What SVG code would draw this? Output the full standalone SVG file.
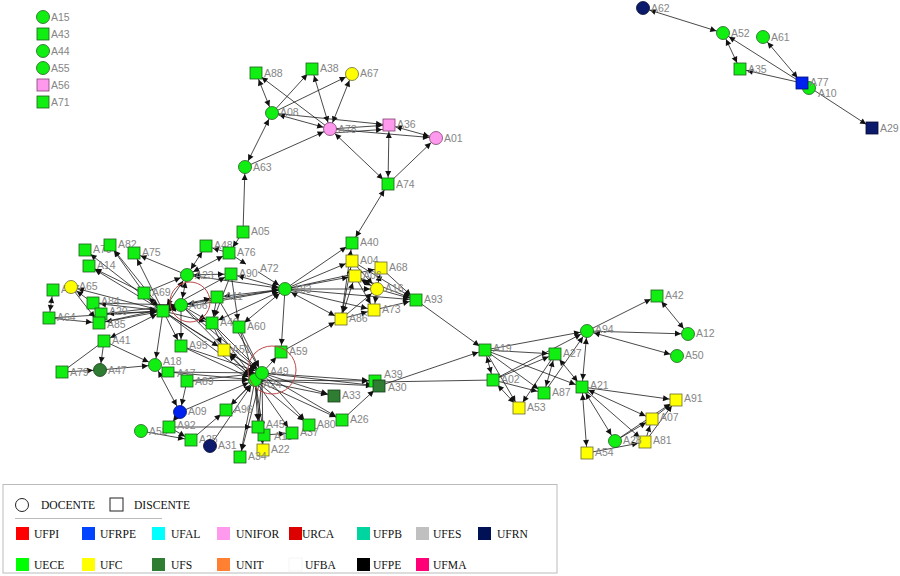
<svg xmlns="http://www.w3.org/2000/svg" width="900" height="576" viewBox="0 0 900 576">
<defs>
<marker id="ar" viewBox="0 0 20 10" refX="17" refY="5" markerWidth="20" markerHeight="10" markerUnits="userSpaceOnUse" orient="auto-start-reverse"><path d="M4,2 L10,5 L4,8 z" fill="#111"/></marker>
</defs>
<style>
.s{stroke:#1a1a1a;stroke-width:0.8;fill:none;marker-end:url(#ar)}
.d{stroke:#1a1a1a;stroke-width:0.8;fill:none;marker-end:url(#ar);marker-start:url(#ar)}
.p{stroke:#1a1a1a;stroke-width:0.8;fill:none}
.l{font-family:"Liberation Sans",Arial,sans-serif;font-size:10.5px;fill:#858585}
.g{fill:#11ee11;stroke:#1f5f1f;stroke-width:0.8}
.y{fill:#ffff00;stroke:#6a6a30;stroke-width:0.8}
.k{fill:#ff99ee;stroke:#804070;stroke-width:0.8}
.n{fill:#0c1a6b;stroke:#050a30;stroke-width:0.8}
.b{fill:#0022ee;stroke:#001170;stroke-width:0.8}
.dg{fill:#2e7d32;stroke:#163d18;stroke-width:0.8}
.w{fill:#ffffff;stroke:none}
.ring{fill:none;stroke:#c04848;stroke-width:1}
.lt{font-family:"Liberation Serif","Times New Roman",serif;font-size:11.6px;fill:#111}
</style>
<rect width="900" height="576" fill="#ffffff"/>
<g id="connectors">
<line class="d" x1="643" y1="8" x2="723" y2="33"/>
<line class="d" x1="723" y1="33" x2="740" y2="69"/>
<line class="s" x1="802" y1="83" x2="723" y2="33"/>
<line class="d" x1="802" y1="83" x2="763" y2="37"/>
<line class="s" x1="802" y1="83" x2="740" y2="69"/>
<line class="s" x1="809" y1="87" x2="872" y2="128"/>
<line class="d" x1="272" y1="113" x2="256" y2="73"/>
<line class="s" x1="272" y1="113" x2="312" y2="69"/>
<line class="s" x1="272" y1="113" x2="352" y2="74"/>
<line class="s" x1="330" y1="129" x2="256" y2="73"/>
<line class="d" x1="330" y1="129" x2="312" y2="69"/>
<line class="d" x1="330" y1="129" x2="352" y2="74"/>
<line class="d" x1="272" y1="113" x2="330" y2="129"/>
<line class="s" x1="272" y1="113" x2="389" y2="125"/>
<line class="s" x1="330" y1="129" x2="389" y2="125"/>
<line class="s" x1="332" y1="133" x2="389" y2="129"/>
<line class="s" x1="330" y1="129" x2="436" y2="138"/>
<line class="d" x1="389" y1="125" x2="436" y2="138"/>
<line class="d" x1="389" y1="125" x2="388" y2="184"/>
<line class="d" x1="330" y1="129" x2="388" y2="184"/>
<line class="s" x1="388" y1="184" x2="436" y2="138"/>
<line class="d" x1="272" y1="113" x2="245" y2="167"/>
<line class="s" x1="245" y1="167" x2="330" y2="129"/>
<line class="s" x1="243" y1="232" x2="245" y2="167"/>
<line class="d" x1="352" y1="243" x2="388" y2="184"/>
<line class="s" x1="163" y1="311" x2="85" y2="250"/>
<line class="s" x1="163" y1="311" x2="110" y2="245"/>
<line class="s" x1="144" y1="293" x2="110" y2="245"/>
<line class="s" x1="163" y1="311" x2="134" y2="253"/>
<line class="s" x1="187" y1="275" x2="134" y2="253"/>
<line class="s" x1="144" y1="293" x2="89" y2="266"/>
<line class="s" x1="163" y1="311" x2="89" y2="266"/>
<line class="s" x1="93" y1="303" x2="71" y2="287"/>
<line class="s" x1="163" y1="311" x2="71" y2="287"/>
<line class="d" x1="53" y1="290" x2="49" y2="318"/>
<line class="s" x1="71" y1="287" x2="99" y2="323"/>
<line class="d" x1="163" y1="311" x2="93" y2="303"/>
<line class="d" x1="163" y1="311" x2="101" y2="314"/>
<line class="d" x1="163" y1="311" x2="99" y2="323"/>
<line class="s" x1="93" y1="303" x2="181" y2="305"/>
<line class="s" x1="101" y1="314" x2="181" y2="305"/>
<line class="s" x1="99" y1="323" x2="181" y2="305"/>
<line class="s" x1="49" y1="318" x2="163" y2="311"/>
<line class="s" x1="49" y1="318" x2="99" y2="323"/>
<line class="d" x1="163" y1="311" x2="104" y2="341"/>
<line class="s" x1="104" y1="341" x2="100" y2="370"/>
<line class="s" x1="104" y1="341" x2="155" y2="365"/>
<line class="s" x1="62" y1="372" x2="100" y2="370"/>
<line class="p" x1="62" y1="372" x2="104" y2="341"/>
<line class="s" x1="100" y1="370" x2="155" y2="365"/>
<line class="d" x1="144" y1="293" x2="163" y2="311"/>
<line class="s" x1="144" y1="293" x2="187" y2="275"/>
<line class="d" x1="163" y1="311" x2="181" y2="305"/>
<line class="d" x1="163" y1="311" x2="187" y2="275"/>
<line class="s" x1="163" y1="311" x2="217" y2="297"/>
<line class="s" x1="163" y1="311" x2="212" y2="323"/>
<line class="s" x1="163" y1="311" x2="231" y2="274"/>
<line class="d" x1="163" y1="311" x2="285" y2="289"/>
<line class="s" x1="163" y1="311" x2="181" y2="346"/>
<line class="s" x1="163" y1="311" x2="224" y2="350"/>
<line class="s" x1="163" y1="311" x2="262" y2="373"/>
<line class="s" x1="163" y1="311" x2="255" y2="380"/>
<line class="s" x1="163" y1="311" x2="155" y2="365"/>
<line class="d" x1="181" y1="305" x2="187" y2="275"/>
<line class="s" x1="181" y1="305" x2="217" y2="297"/>
<line class="s" x1="181" y1="305" x2="212" y2="323"/>
<line class="d" x1="181" y1="305" x2="285" y2="289"/>
<line class="s" x1="181" y1="305" x2="262" y2="373"/>
<line class="s" x1="181" y1="305" x2="255" y2="380"/>
<line class="s" x1="181" y1="305" x2="181" y2="346"/>
<line class="d" x1="187" y1="275" x2="206" y2="246"/>
<line class="d" x1="187" y1="275" x2="229" y2="253"/>
<line class="d" x1="187" y1="275" x2="231" y2="274"/>
<line class="d" x1="187" y1="275" x2="285" y2="289"/>
<line class="s" x1="243" y1="232" x2="229" y2="253"/>
<line class="s" x1="229" y1="253" x2="206" y2="246"/>
<line class="s" x1="229" y1="253" x2="252" y2="268"/>
<line class="s" x1="252" y1="268" x2="285" y2="289"/>
<line class="d" x1="231" y1="274" x2="285" y2="289"/>
<line class="s" x1="231" y1="274" x2="212" y2="323"/>
<line class="s" x1="231" y1="274" x2="239" y2="327"/>
<line class="d" x1="217" y1="297" x2="285" y2="289"/>
<line class="s" x1="217" y1="297" x2="212" y2="323"/>
<line class="s" x1="217" y1="297" x2="262" y2="373"/>
<line class="d" x1="212" y1="323" x2="285" y2="289"/>
<line class="s" x1="212" y1="323" x2="262" y2="373"/>
<line class="s" x1="212" y1="323" x2="255" y2="380"/>
<line class="s" x1="212" y1="323" x2="224" y2="350"/>
<line class="d" x1="239" y1="327" x2="285" y2="289"/>
<line class="s" x1="239" y1="327" x2="262" y2="373"/>
<line class="s" x1="239" y1="327" x2="255" y2="380"/>
<line class="s" x1="285" y1="289" x2="281" y2="352"/>
<line class="d" x1="285" y1="289" x2="341" y2="319"/>
<line class="s" x1="285" y1="289" x2="352" y2="243"/>
<line class="s" x1="285" y1="289" x2="352" y2="261"/>
<line class="s" x1="285" y1="289" x2="355" y2="276"/>
<line class="s" x1="285" y1="289" x2="377" y2="289"/>
<line class="s" x1="285" y1="289" x2="374" y2="310"/>
<line class="s" x1="285" y1="289" x2="416" y2="300"/>
<line class="s" x1="285" y1="289" x2="381" y2="268"/>
<line class="s" x1="281" y1="352" x2="341" y2="319"/>
<line class="d" x1="341" y1="319" x2="352" y2="261"/>
<line class="d" x1="341" y1="319" x2="355" y2="276"/>
<line class="s" x1="341" y1="319" x2="377" y2="289"/>
<line class="s" x1="341" y1="319" x2="374" y2="310"/>
<line class="s" x1="341" y1="319" x2="352" y2="243"/>
<line class="s" x1="352" y1="261" x2="416" y2="300"/>
<line class="s" x1="355" y1="276" x2="416" y2="300"/>
<line class="s" x1="377" y1="289" x2="416" y2="300"/>
<line class="s" x1="374" y1="310" x2="416" y2="300"/>
<line class="s" x1="381" y1="268" x2="416" y2="300"/>
<line class="d" x1="355" y1="276" x2="377" y2="289"/>
<line class="s" x1="352" y1="261" x2="377" y2="289"/>
<line class="s" x1="355" y1="276" x2="374" y2="310"/>
<line class="s" x1="377" y1="289" x2="374" y2="310"/>
<line class="d" x1="381" y1="268" x2="377" y2="289"/>
<line class="d" x1="224" y1="350" x2="262" y2="373"/>
<line class="d" x1="224" y1="350" x2="255" y2="380"/>
<line class="s" x1="181" y1="346" x2="262" y2="373"/>
<line class="s" x1="181" y1="346" x2="255" y2="380"/>
<line class="s" x1="168" y1="372" x2="255" y2="380"/>
<line class="s" x1="168" y1="372" x2="262" y2="373"/>
<line class="s" x1="187" y1="381" x2="255" y2="380"/>
<line class="s" x1="187" y1="381" x2="180" y2="412"/>
<line class="s" x1="187" y1="381" x2="262" y2="373"/>
<line class="d" x1="155" y1="365" x2="180" y2="412"/>
<line class="s" x1="180" y1="412" x2="169" y2="427"/>
<line class="s" x1="180" y1="412" x2="255" y2="380"/>
<line class="s" x1="169" y1="427" x2="191" y2="440"/>
<line class="s" x1="141" y1="431" x2="191" y2="440"/>
<line class="s" x1="169" y1="427" x2="258" y2="427"/>
<line class="s" x1="191" y1="440" x2="226" y2="410"/>
<line class="s" x1="210" y1="446" x2="255" y2="380"/>
<line class="s" x1="226" y1="410" x2="255" y2="380"/>
<line class="d" x1="226" y1="410" x2="262" y2="373"/>
<line class="s" x1="262" y1="373" x2="281" y2="352"/>
<line class="s" x1="262" y1="373" x2="375" y2="381"/>
<line class="s" x1="262" y1="373" x2="379" y2="386"/>
<line class="s" x1="262" y1="373" x2="334" y2="396"/>
<line class="s" x1="262" y1="373" x2="342" y2="420"/>
<line class="s" x1="262" y1="373" x2="309" y2="425"/>
<line class="s" x1="255" y1="380" x2="379" y2="386"/>
<line class="s" x1="255" y1="380" x2="375" y2="381"/>
<line class="s" x1="255" y1="380" x2="334" y2="396"/>
<line class="s" x1="255" y1="380" x2="342" y2="420"/>
<line class="s" x1="255" y1="380" x2="309" y2="425"/>
<line class="s" x1="255" y1="380" x2="292" y2="433"/>
<line class="s" x1="255" y1="380" x2="258" y2="427"/>
<line class="s" x1="255" y1="380" x2="264" y2="435"/>
<line class="s" x1="255" y1="380" x2="263" y2="450"/>
<line class="s" x1="255" y1="380" x2="240" y2="457"/>
<line class="s" x1="262" y1="373" x2="258" y2="427"/>
<line class="s" x1="262" y1="373" x2="263" y2="450"/>
<line class="s" x1="262" y1="373" x2="240" y2="457"/>
<line class="s" x1="264" y1="435" x2="292" y2="433"/>
<line class="s" x1="342" y1="420" x2="379" y2="386"/>
<line class="s" x1="379" y1="386" x2="485" y2="350"/>
<line class="p" x1="379" y1="382" x2="493" y2="380"/>
<line class="s" x1="416" y1="300" x2="485" y2="350"/>
<line class="s" x1="485" y1="350" x2="587" y2="331"/>
<line class="s" x1="485" y1="350" x2="555" y2="354"/>
<line class="d" x1="485" y1="350" x2="493" y2="380"/>
<line class="s" x1="485" y1="350" x2="582" y2="387"/>
<line class="s" x1="485" y1="350" x2="544" y2="393"/>
<line class="s" x1="485" y1="350" x2="519" y2="408"/>
<line class="d" x1="493" y1="380" x2="519" y2="408"/>
<line class="s" x1="493" y1="380" x2="544" y2="393"/>
<line class="s" x1="493" y1="380" x2="555" y2="354"/>
<line class="s" x1="493" y1="380" x2="587" y2="331"/>
<line class="d" x1="555" y1="354" x2="582" y2="387"/>
<line class="d" x1="555" y1="354" x2="544" y2="393"/>
<line class="s" x1="555" y1="354" x2="519" y2="408"/>
<line class="s" x1="544" y1="393" x2="587" y2="331"/>
<line class="s" x1="587" y1="331" x2="657" y2="296"/>
<line class="s" x1="587" y1="331" x2="688" y2="334"/>
<line class="d" x1="587" y1="331" x2="677" y2="356"/>
<line class="d" x1="587" y1="331" x2="582" y2="387"/>
<line class="d" x1="657" y1="296" x2="688" y2="334"/>
<line class="s" x1="582" y1="387" x2="676" y2="400"/>
<line class="d" x1="582" y1="387" x2="652" y2="419"/>
<line class="d" x1="582" y1="387" x2="615" y2="441"/>
<line class="d" x1="582" y1="387" x2="587" y2="453"/>
<line class="s" x1="582" y1="387" x2="645" y2="442"/>
<line class="s" x1="615" y1="441" x2="652" y2="419"/>
<line class="s" x1="615" y1="441" x2="676" y2="400"/>
<line class="s" x1="587" y1="453" x2="645" y2="442"/>
<line class="s" x1="645" y1="442" x2="652" y2="419"/>
<line class="s" x1="652" y1="419" x2="676" y2="400"/>
<line class="s" x1="645" y1="442" x2="676" y2="400"/>
</g>
<g id="n-A15"><circle class="g" cx="43" cy="17" r="6.5"/><text class="l" x="51" y="21">A15</text></g>
<g id="n-A43"><rect class="g" x="37" y="28" width="12" height="12"/><text class="l" x="51" y="38">A43</text></g>
<g id="n-A44"><circle class="g" cx="43" cy="51" r="6.5"/><text class="l" x="51" y="55">A44</text></g>
<g id="n-A55"><circle class="g" cx="43" cy="68" r="6.5"/><text class="l" x="51" y="72">A55</text></g>
<g id="n-A56"><rect class="k" x="37" y="79" width="12" height="12"/><text class="l" x="51" y="89">A56</text></g>
<g id="n-A71"><rect class="g" x="37" y="96" width="12" height="12"/><text class="l" x="51" y="106">A71</text></g>
<g id="n-A62"><circle class="n" cx="643" cy="8" r="6.5"/><text class="l" x="651" y="12">A62</text></g>
<g id="n-A52"><circle class="g" cx="723" cy="33" r="6.5"/><text class="l" x="731" y="37">A52</text></g>
<g id="n-A61"><circle class="g" cx="763" cy="37" r="6.5"/><text class="l" x="771" y="41">A61</text></g>
<g id="n-A35"><rect class="g" x="734" y="63" width="12" height="12"/><text class="l" x="748" y="73">A35</text></g>
<g id="n-A10"><circle class="g" cx="809" cy="88" r="6.5"/><text class="l" x="818" y="97">A10</text></g>
<g id="n-A77"><rect class="b" x="796" y="77" width="12" height="12"/><text class="l" x="810" y="86">A77</text></g>
<g id="n-A29"><rect class="n" x="866" y="122" width="12" height="12"/><text class="l" x="880" y="132">A29</text></g>
<g id="n-A88"><rect class="g" x="250" y="67" width="12" height="12"/><text class="l" x="264" y="77">A88</text></g>
<g id="n-A38"><rect class="g" x="306" y="63" width="12" height="12"/><text class="l" x="320" y="72">A38</text></g>
<g id="n-A67"><circle class="y" cx="352" cy="74" r="6.5"/><text class="l" x="360" y="77">A67</text></g>
<g id="n-A08"><circle class="g" cx="272" cy="113" r="6.5"/><text class="l" x="280" y="116">A08</text></g>
<g id="n-A78"><circle class="k" cx="330" cy="129" r="6.5"/><text class="l" x="338" y="133">A78</text></g>
<g id="n-A36"><rect class="k" x="383" y="119" width="12" height="12"/><text class="l" x="397" y="128">A36</text></g>
<g id="n-A01"><circle class="k" cx="436" cy="138" r="6.5"/><text class="l" x="444" y="142">A01</text></g>
<g id="n-A63"><circle class="g" cx="245" cy="167" r="6.5"/><text class="l" x="253" y="171">A63</text></g>
<g id="n-A74"><rect class="g" x="382" y="178" width="12" height="12"/><text class="l" x="396" y="188">A74</text></g>
<g id="n-A05"><rect class="g" x="237" y="226" width="12" height="12"/><text class="l" x="251" y="235">A05</text></g>
<g id="n-A40"><rect class="g" x="346" y="237" width="12" height="12"/><text class="l" x="360" y="246">A40</text></g>
<g id="n-A70"><rect class="g" x="79" y="244" width="12" height="12"/><text class="l" x="93" y="253">A70</text></g>
<g id="n-A82"><rect class="g" x="104" y="239" width="12" height="12"/><text class="l" x="118" y="248">A82</text></g>
<g id="n-A75"><rect class="g" x="128" y="247" width="12" height="12"/><text class="l" x="142" y="256">A75</text></g>
<g id="n-A14"><rect class="g" x="83" y="260" width="12" height="12"/><text class="l" x="97" y="269">A14</text></g>
<g id="n-A57"><rect class="g" x="47" y="284" width="12" height="12"/><text class="l" x="61" y="293">A57</text></g>
<g id="n-A65"><circle class="y" cx="71" cy="287" r="6.5"/><text class="l" x="79" y="290">A65</text></g>
<g id="n-A64"><rect class="g" x="43" y="312" width="12" height="12"/><text class="l" x="57" y="321">A64</text></g>
<g id="n-A84"><rect class="g" x="87" y="297" width="12" height="12"/><text class="l" x="101" y="305">A84</text></g>
<g id="n-A20"><rect class="g" x="95" y="308" width="12" height="12"/><text class="l" x="109" y="315">A20</text></g>
<g id="n-A85"><rect class="g" x="93" y="317" width="12" height="12"/><text class="l" x="107" y="328">A85</text></g>
<g id="n-A41"><rect class="g" x="98" y="335" width="12" height="12"/><text class="l" x="112" y="344">A41</text></g>
<g id="n-A69"><rect class="g" x="138" y="287" width="12" height="12"/><text class="l" x="152" y="296">A69</text></g>
<g id="n-hub"><rect class="g" x="157" y="305" width="12" height="12"/></g>
<g id="n-A66"><circle class="g" cx="181" cy="305" r="6.5"/><text class="l" x="189" y="309">A66</text></g>
<g id="n-A23"><circle class="g" cx="187" cy="275" r="6.5"/><text class="l" x="195" y="279">A23</text></g>
<g id="n-A48"><rect class="g" x="200" y="240" width="12" height="12"/><text class="l" x="214" y="249">A48</text></g>
<g id="n-A76"><rect class="g" x="223" y="247" width="12" height="12"/><text class="l" x="237" y="256">A76</text></g>
<g id="n-A72"><rect class="w" x="246" y="262" width="12" height="12"/><text class="l" x="260" y="272">A72</text></g>
<g id="n-A90"><rect class="g" x="225" y="268" width="12" height="12"/><text class="l" x="239" y="277">A90</text></g>
<g id="n-A11"><rect class="g" x="211" y="291" width="12" height="12"/><text class="l" x="225" y="300">A11</text></g>
<g id="n-A46"><rect class="g" x="206" y="317" width="12" height="12"/><text class="l" x="220" y="326">A46</text></g>
<g id="n-A60"><rect class="g" x="233" y="321" width="12" height="12"/><text class="l" x="247" y="330">A60</text></g>
<g id="n-A83"><circle class="g" cx="285" cy="289" r="6.5"/><text class="l" x="293" y="293">A83</text></g>
<g id="n-A95"><rect class="g" x="175" y="340" width="12" height="12"/><text class="l" x="189" y="349">A95</text></g>
<g id="n-A51"><rect class="y" x="218" y="344" width="12" height="12"/><text class="l" x="232" y="353">A51</text></g>
<g id="n-A59"><rect class="g" x="275" y="346" width="12" height="12"/><text class="l" x="289" y="355">A59</text></g>
<g id="n-A24"><circle class="g" cx="255" cy="380" r="6.5"/><text class="l" x="263" y="388">A24</text></g>
<g id="n-A49"><circle class="g" cx="262" cy="373" r="6.5"/><text class="l" x="270" y="375">A49</text></g>
<g id="n-A18"><circle class="g" cx="155" cy="365" r="6.5"/><text class="l" x="163" y="365">A18</text></g>
<g id="n-A17"><rect class="g" x="162" y="367" width="12" height="10"/><text class="l" x="177" y="377">A17</text></g>
<g id="n-A89"><rect class="g" x="181" y="375" width="12" height="12"/><text class="l" x="195" y="385">A89</text></g>
<g id="n-A79"><rect class="g" x="56" y="366" width="12" height="12"/><text class="l" x="70" y="376">A79</text></g>
<g id="n-A47"><circle class="dg" cx="100" cy="370" r="6.5"/><text class="l" x="108" y="374">A47</text></g>
<g id="n-A09"><circle class="b" cx="180" cy="412" r="6.5"/><text class="l" x="188" y="415">A09</text></g>
<g id="n-A96"><rect class="g" x="220" y="404" width="12" height="12"/><text class="l" x="234" y="413">A96</text></g>
<g id="n-A58"><circle class="g" cx="141" cy="431" r="6.5"/><text class="l" x="149" y="435">A58</text></g>
<g id="n-A92"><rect class="g" x="163" y="421" width="12" height="12"/><text class="l" x="177" y="429">A92</text></g>
<g id="n-A25"><rect class="g" x="185" y="434" width="12" height="12"/><text class="l" x="199" y="443">A25</text></g>
<g id="n-A31"><circle class="n" cx="210" cy="446" r="6.5"/><text class="l" x="218" y="449">A31</text></g>
<g id="n-A13"><rect class="g" x="258" y="429" width="12" height="12"/><text class="l" x="274" y="440">A13</text></g>
<g id="n-A45"><rect class="g" x="252" y="421" width="12" height="12"/><text class="l" x="266" y="428">A45</text></g>
<g id="n-A37"><rect class="g" x="286" y="427" width="12" height="12"/><text class="l" x="300" y="436">A37</text></g>
<g id="n-A22"><rect class="y" x="257" y="444" width="12" height="12"/><text class="l" x="271" y="453">A22</text></g>
<g id="n-A34"><rect class="g" x="234" y="451" width="12" height="12"/><text class="l" x="248" y="460">A34</text></g>
<g id="n-A80"><rect class="g" x="303" y="419" width="12" height="12"/><text class="l" x="317" y="428">A80</text></g>
<g id="n-A26"><rect class="g" x="336" y="414" width="12" height="12"/><text class="l" x="350" y="423">A26</text></g>
<g id="n-A33"><rect class="dg" x="328" y="390" width="12" height="12"/><text class="l" x="342" y="399">A33</text></g>
<g id="n-A39"><rect class="g" x="369" y="375" width="12" height="12"/><text class="l" x="384" y="378">A39</text></g>
<g id="n-A30"><rect class="dg" x="373" y="380" width="12" height="12"/><text class="l" x="388" y="391">A30</text></g>
<g id="n-A86"><rect class="y" x="335" y="313" width="12" height="12"/><text class="l" x="349" y="322">A86</text></g>
<g id="n-A73"><rect class="y" x="368" y="304" width="12" height="12"/><text class="l" x="382" y="313">A73</text></g>
<g id="n-A04"><rect class="y" x="346" y="255" width="12" height="12"/><text class="l" x="360" y="264">A04</text></g>
<g id="n-A68"><rect class="y" x="375" y="262" width="12" height="12"/><text class="l" x="389" y="271">A68</text></g>
<g id="n-A06"><rect class="y" x="349" y="270" width="12" height="12"/><text class="l" x="363" y="279">A06</text></g>
<g id="n-A16"><circle class="y" cx="377" cy="289" r="6.5"/><text class="l" x="385" y="292">A16</text></g>
<g id="n-A93"><rect class="g" x="410" y="294" width="12" height="12"/><text class="l" x="424" y="303">A93</text></g>
<g id="n-A19"><rect class="g" x="479" y="344" width="12" height="12"/><text class="l" x="493" y="352">A19</text></g>
<g id="n-A02"><rect class="g" x="487" y="374" width="12" height="12"/><text class="l" x="501" y="383">A02</text></g>
<g id="n-A53"><rect class="y" x="513" y="402" width="12" height="12"/><text class="l" x="527" y="411">A53</text></g>
<g id="n-A87"><rect class="g" x="538" y="387" width="12" height="12"/><text class="l" x="552" y="396">A87</text></g>
<g id="n-A27"><rect class="g" x="549" y="348" width="12" height="12"/><text class="l" x="563" y="357">A27</text></g>
<g id="n-A94"><circle class="g" cx="587" cy="331" r="6.5"/><text class="l" x="595" y="333">A94</text></g>
<g id="n-A42"><rect class="g" x="651" y="290" width="12" height="12"/><text class="l" x="665" y="299">A42</text></g>
<g id="n-A12"><circle class="g" cx="688" cy="334" r="6.5"/><text class="l" x="696" y="337">A12</text></g>
<g id="n-A50"><circle class="g" cx="677" cy="356" r="6.5"/><text class="l" x="685" y="359">A50</text></g>
<g id="n-A21"><rect class="g" x="576" y="381" width="12" height="12"/><text class="l" x="590" y="389">A21</text></g>
<g id="n-A91"><rect class="y" x="670" y="394" width="12" height="12"/><text class="l" x="684" y="402">A91</text></g>
<g id="n-A07"><rect class="y" x="646" y="413" width="12" height="12"/><text class="l" x="660" y="421">A07</text></g>
<g id="n-A81"><rect class="y" x="639" y="436" width="12" height="12"/><text class="l" x="653" y="444">A81</text></g>
<g id="n-A28"><circle class="g" cx="615" cy="441" r="6.5"/><text class="l" x="623" y="444">A28</text></g>
<g id="n-A54"><rect class="y" x="581" y="447" width="12" height="12"/><text class="l" x="595" y="456">A54</text></g>
<circle class="ring" cx="190" cy="302" r="20"/>
<circle class="ring" cx="272" cy="370" r="24"/>
<g id="legend">
<rect x="3" y="484.5" width="554" height="88.5" fill="#ffffff" stroke="#bbbbbb" stroke-width="1"/>
<circle cx="22" cy="505" r="6.5" fill="#ffffff" stroke="#222" stroke-width="1"/>
<text class="lt" x="41" y="509">DOCENTE</text>
<rect x="110" y="498" width="13" height="13" fill="#ffffff" stroke="#222" stroke-width="1"/>
<text class="lt" x="134" y="509">DISCENTE</text>
<line x1="15" y1="518.5" x2="162" y2="518.5" stroke="#bbbbbb" stroke-width="1"/>
<rect x="16" y="527" width="13" height="13" fill="#ff0000"/><text class="lt" x="34" y="538">UFPI</text>
<rect x="82" y="527" width="13" height="13" fill="#0044ff"/><text class="lt" x="100" y="538">UFRPE</text>
<rect x="152" y="527" width="13" height="13" fill="#00ffff"/><text class="lt" x="171" y="538">UFAL</text>
<rect x="217" y="527" width="13" height="13" fill="#ff99ee"/><text class="lt" x="236" y="538">UNIFOR</text>
<rect x="289" y="527" width="13" height="13" fill="#dd0000"/><text class="lt" x="302" y="538">URCA</text>
<rect x="357" y="527" width="13" height="13" fill="#00d4a0"/><text class="lt" x="373" y="538">UFPB</text>
<rect x="416" y="527" width="13" height="13" fill="#c0c0c0"/><text class="lt" x="433" y="538">UFES</text>
<rect x="478" y="527" width="13" height="13" fill="#001155"/><text class="lt" x="497" y="538">UFRN</text>
<rect x="16" y="558" width="13" height="13" fill="#00ff00"/><text class="lt" x="34" y="569">UECE</text>
<rect x="82" y="558" width="13" height="13" fill="#ffff00"/><text class="lt" x="100" y="569">UFC</text>
<rect x="152" y="558" width="13" height="13" fill="#2e7d32"/><text class="lt" x="171" y="569">UFS</text>
<rect x="217" y="558" width="13" height="13" fill="#ff8030"/><text class="lt" x="236" y="569">UNIT</text>
<rect x="289" y="558" width="13" height="13" fill="#ffffff" stroke="#eeeeee" stroke-width="0.6"/><text class="lt" x="305" y="569">UFBA</text>
<rect x="357" y="558" width="13" height="13" fill="#000000"/><text class="lt" x="373" y="569">UFPE</text>
<rect x="416" y="558" width="13" height="13" fill="#ff0077"/><text class="lt" x="433" y="569">UFMA</text>
</g>
</svg>
